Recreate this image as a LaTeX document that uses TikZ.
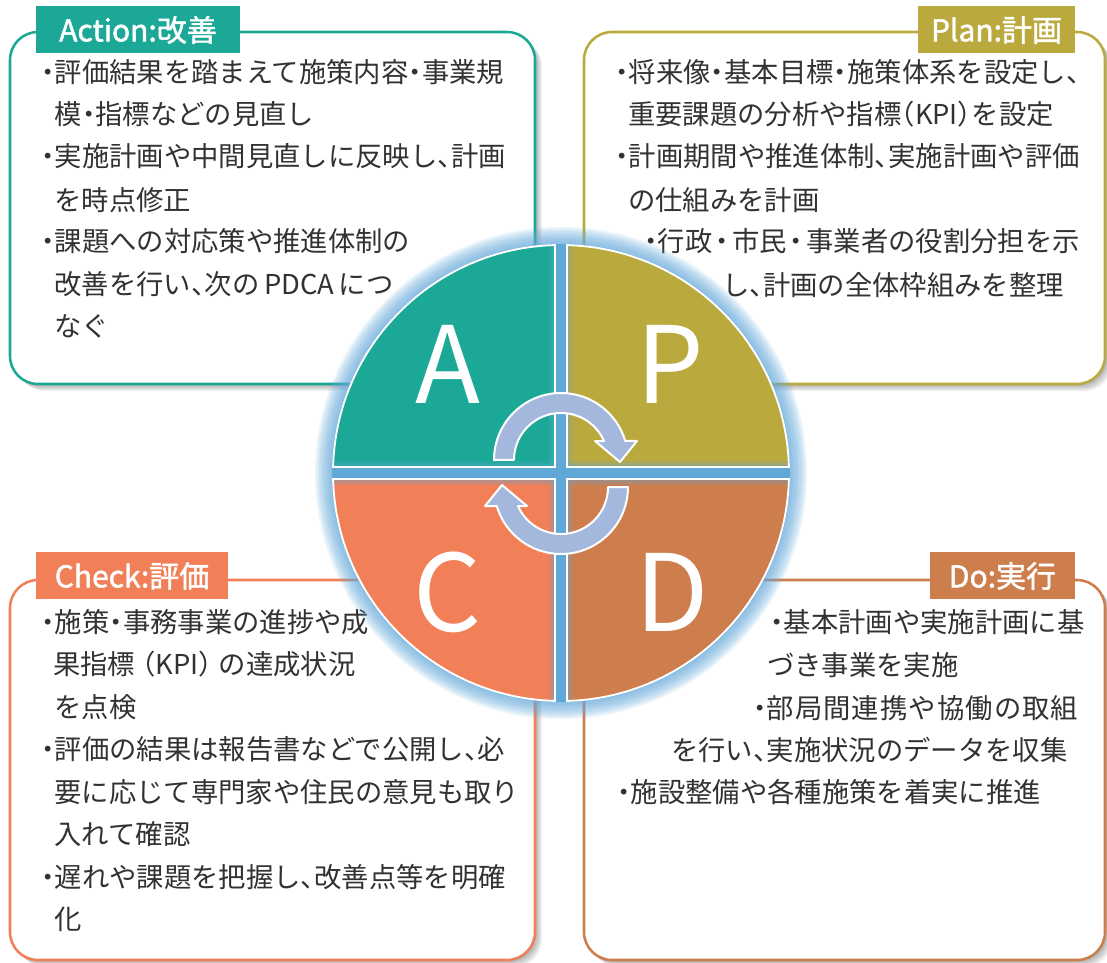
\documentclass[tikz,border=0pt]{standalone}
\usepackage{fontspec}
\setmainfont{Noto Sans CJK JP}
\newfontfamily\lbfont{Noto Sans CJK JP}[BoldFont={*},BoldFeatures={FakeBold=1.6}]
\definecolor{cA}{RGB}{27,168,150}
\definecolor{cP}{RGB}{186,170,62}
\definecolor{cC}{RGB}{241,128,88}
\definecolor{cD}{RGB}{206,125,76}
\definecolor{stripc}{RGB}{95,168,216}
\definecolor{glowc}{RGB}{100,170,220}
\definecolor{arrowc}{RGB}{164,184,222}
\definecolor{txtc}{RGB}{50,50,50}
\newcommand\bl{\makebox[0.5em][c]{・}}
\newcommand\nd{\makebox[0.5em][c]{・}}
\newcommand\nc{\makebox[0.5em][l]{、}}
\newcommand\cycpath{(494,460) arc[start angle=180, end angle=343.5, radius=67] -- (637,441) -- (620,462) -- (595,441) -- (604,441) arc[start angle=336.2, end angle=180, radius=47] -- cycle}
\newcommand\qA{(555,467) -- (555,245.08) arc[start angle=268.49, end angle=181.51, radius=228] -- cycle}
\newcommand\qP{(567,467) -- (788.92,467) arc[start angle=358.49, end angle=271.51, radius=228] -- cycle}
\newcommand\qD{(567,479) -- (567,700.92) arc[start angle=88.49, end angle=1.51, radius=228] -- cycle}
\newcommand\qC{(555,479) -- (333.08,479) arc[start angle=178.49, end angle=91.51, radius=228] -- cycle}
\begin{document}
\begin{tikzpicture}[x=0.75pt,y=-0.75pt,
  txt/.style={anchor=base west, inner sep=0pt, outer sep=0pt, text=txtc, font=\fontsize{20.5}{24}\selectfont},
  lab/.style={anchor=center, inner sep=0pt, text=white, font=\lbfont\bfseries\fontsize{22.5}{26}\selectfont},
  big/.style={anchor=center, inner sep=0pt, text=white, font=\fontsize{80}{90}\selectfont},
  frame/.style={line width=1.9pt, fill=white, rounded corners=21pt},
  shadowc/.style={fill=black, opacity=0.045, rounded corners=21pt},
  quad/.style={draw=white, line width=1.4pt}]
\useasboundingbox (0,0) rectangle (1107,963);
\fill[white] (0,0) rectangle (1107,963);
% shadows
\foreach \k in {1,...,8}{
  \fill[shadowc, shift={(\k*0.9,\k*0.9)}] (10,32) rectangle (535,384);
  \fill[shadowc, shift={(\k*0.9,\k*0.9)}] (584,32) rectangle (1105,384);
  \fill[shadowc, shift={(\k*0.9,\k*0.9)}] (10,580) rectangle (535,960);
  \fill[shadowc, shift={(\k*0.9,\k*0.9)}] (584,580) rectangle (1105,960);
}
% boxes
\draw[frame, draw=cA] (10,32) rectangle (535,384);
\draw[frame, draw=cP] (584,32) rectangle (1105,384);
\draw[frame, draw=cC] (10,580) rectangle (535,960);
\draw[frame, draw=cD] (584,580) rectangle (1105,960);
% labels
\fill[cA] (36,6) rectangle (240,53);
\fill[cP] (918,6) rectangle (1075,53);
\fill[cC] (36,552) rectangle (228,599);
\fill[cD] (930,552) rectangle (1075,599);
\node[lab] (lA) at (138,30) {Action:改善};
\node[lab] (lP) at (996.5,30) {Plan:計画};
\node[lab] (lC) at (132,576) {Check:評価};
\node[lab] (lD) at (1002.5,576) {Do:実行};
% Action text
\node[txt] (a1) at (41,83) {\bl 評価結果を踏まえて施策内容\nd 事業規};
\node[txt] (a2) at (54.5,125) {模\nd 指標などの見直し};
\node[txt] (a3) at (41,167) {\bl 実施計画や中間見直しに反映し\nc 計画};
\node[txt] (a4) at (54.5,210) {を時点修正};
\node[txt] (a5) at (41,252) {\bl 課題への対応策や推進体制の};
\node[txt] (a6) at (54.5,294) {改善を行い\nc 次の\,PDCA\,につ};
\node[txt] (a7) at (54.5,336) {なぐ};
% Plan text
\node[txt] (p1) at (615,83) {\bl 将来像\nd 基本目標\nd 施策体系を設定し、};
\node[txt] (p2) at (628,125) {重要課題の分析や指標\makebox[0.5em][r]{（}KPI\makebox[0.5em][l]{）}を設定};
\node[txt] (p3) at (615,167) {\bl 計画期間や推進体制\nc 実施計画や評価};
\node[txt] (p4) at (628,210) {の仕組みを計画};
\node[txt] (p5) at (644,252) {\bl 行政\makebox[0.72em][c]{・}市民\makebox[0.72em][c]{・}事業者の役割分担を示};
\node[txt] (p6) at (722,295) {し\nc 計画の全体枠組みを整理};
% Check text
\node[txt] (c1) at (41,632) {\bl 施策\nd 事務事業の進捗や成};
\node[txt] (c2) at (53,674) {果指標\makebox[0.75em][r]{（}KPI\makebox[0.75em][l]{）}の達成状況};
\node[txt] (c3) at (54.5,717) {を点検};
\node[txt] (c4) at (41,759) {\bl 評価の結果は報告書などで公開し\nc 必};
\node[txt] (c5) at (54.5,802) {要に応じて専門家や住民の意見も取り};
\node[txt] (c6) at (54.5,844) {入れて確認};
\node[txt] (c7) at (41,887) {\bl 遅れや課題を把握し\nc 改善点等を明確};
\node[txt] (c8) at (54.5,929) {化};
% Do text
\node[txt] (d1) at (770,632) {\bl 基本計画や実施計画に基};
\node[txt] (d2) at (767,675) {づき事業を実施};
\node[txt] (d3) at (753,718) {\addfontfeature{LetterSpace=4}\bl 部局間連携や協働の取組};
\node[txt] (d4) at (671,760) {を行い\nc 実施状況のデータを収集};
\node[txt] (d5) at (617,802) {\bl 施設整備や各種施策を着実に推進};
% circle glow
\foreach \r in {246,244,...,230}{
  \fill[glowc, opacity=0.13] (561,473) circle[radius=\r];
}
\fill[stripc] (561,473) circle[radius=229];
% quadrants
\fill[cA] \qA; \fill[cP] \qP; \fill[cD] \qD; \fill[cC] \qC;
\begin{scope}
\clip (561,473) circle[radius=229];
\foreach \w in {24,18,13}{
  \draw[stripc, opacity=0.22, line width=\w*0.75pt] (561,240) -- (561,706);
  \draw[stripc, opacity=0.22, line width=\w*0.75pt] (328,473) -- (794,473);
}
\end{scope}
\draw[quad] \qA; \draw[quad] \qP; \draw[quad] \qD; \draw[quad] \qC;
% letters
\node[big] (LA) at (448,364) {A};
\node[big] (LP) at (670,364) {P};
\node[big] (LC) at (448,592) {C};
\node[big] (LD) at (672,592) {D};
% cycle arrows
\filldraw[fill=arrowc, draw=white, line width=1.5pt, line join=round] \cycpath;
\begin{scope}[rotate around={180:(561,473.5)}]
\filldraw[fill=arrowc, draw=white, line width=1.5pt, line join=round] \cycpath;
\end{scope}
\end{tikzpicture}
\end{document}
